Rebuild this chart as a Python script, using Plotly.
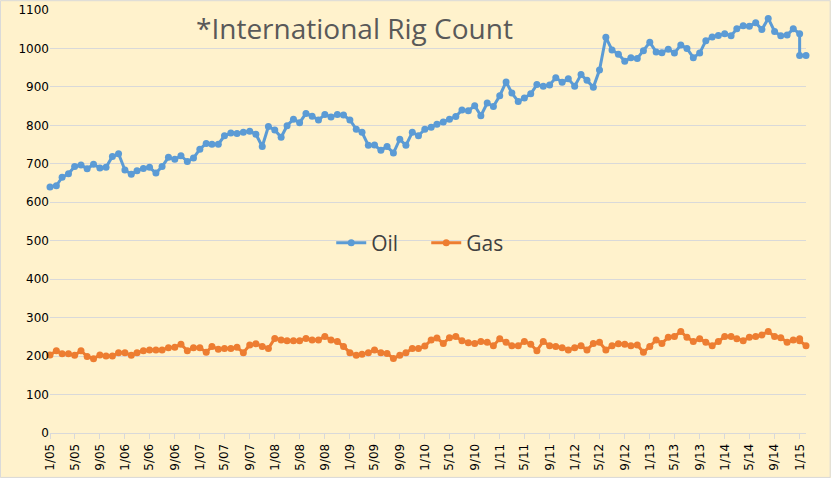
import pandas as pd
import plotly.graph_objects as go

# monthly points, Jan 2005 .. Feb 2015 (Jan 2015 appears twice in the source)
months = list(pd.date_range("2005-01-01", "2015-02-01", freq="MS"))
months.insert(120, months[120])

oil = [
    640, 643, 665, 674, 693, 697, 687, 699, 689, 691, 719, 726,
    684, 673, 682, 688, 691, 676, 693, 717, 712, 721, 706, 715,
    738, 753, 751, 751, 773, 780, 779, 782, 785, 777, 745, 797,
    788, 769, 799, 816, 807, 831, 824, 814, 828, 822, 828, 827,
    814, 790, 782, 748, 749, 735, 745, 728, 764, 748, 782, 773,
    790, 795, 803, 809, 816, 823, 840, 838, 851, 825, 858, 849,
    877, 913, 884, 862, 871, 882, 906, 902, 905, 924, 912, 921,
    902, 932, 917, 899, 944, 1029, 996, 985, 967, 976, 974, 994,
    1016, 991, 989, 998, 988, 1009, 1000, 976, 988, 1020, 1030, 1034,
    1038, 1033, 1051, 1059, 1058, 1067, 1049, 1078, 1044, 1033, 1035, 1051,
    1038, 982, 982,
]

gas = [
    203, 214, 206, 206, 202, 214, 199, 193, 203, 200, 200, 209,
    209, 202, 209, 214, 216, 216, 216, 222, 223, 231, 214, 222,
    222, 210, 225, 218, 220, 220, 223, 209, 229, 232, 225, 220,
    246, 242, 240, 240, 240, 246, 242, 242, 251, 242, 238, 225,
    209, 202, 205, 209, 216, 209, 207, 194, 202, 209, 220, 220,
    226, 242, 247, 233, 248, 251, 240, 235, 233, 238, 236, 227,
    245, 236, 227, 227, 238, 231, 214, 238, 227, 225, 222, 216,
    222, 227, 216, 233, 236, 216, 227, 232, 231, 227, 229, 210,
    225, 242, 233, 249, 251, 264, 249, 238, 245, 236, 227, 238,
    251, 251, 245, 240, 249, 251, 255, 264, 251, 248, 236, 242,
    245, 240, 227,
]

fig = go.Figure()
fig.add_trace(go.Scatter(x=months, y=oil, name="Oil", mode="lines+markers",
                         line=dict(color="#5B9BD5", width=3),
                         marker=dict(size=7, color="#5B9BD5"), cliponaxis=False))
fig.add_trace(go.Scatter(x=months, y=gas, name="Gas", mode="lines+markers",
                         line=dict(color="#ED7D31", width=3),
                         marker=dict(size=7, color="#ED7D31"), cliponaxis=False))

fig.update_layout(
    width=831, height=478,
    margin=dict(l=50, r=25, t=10, b=45, autoexpand=False),
    paper_bgcolor="#FFF2CC", plot_bgcolor="#FFF2CC",
    font=dict(family="DejaVu Sans", size=12, color="#000000"),
    showlegend=True,
    legend=dict(orientation="h", x=0.372, y=0.449, xanchor="left", yanchor="middle",
                itemwidth=30, entrywidth=50, entrywidthmode="pixels",
                bgcolor="rgba(0,0,0,0)",
                font=dict(size=21, family="Open Sans", color="#404040")),
    annotations=[dict(text="*International Rig Count", x=0.403, y=0.957,
                      xref="paper", yref="paper", xanchor="center", yanchor="middle",
                      showarrow=False,
                      font=dict(family="Open Sans", size=28, color="#595959"))],
    shapes=[dict(type="rect", xref="paper", yref="paper",
                 x0=-0.0655, x1=1.032, y0=-0.105, y1=1.022,
                 line=dict(color="#D9D9D9", width=1))],
)
fig.update_xaxes(type="date", range=["2005-01-01", "2015-02-01"], automargin=False,
                 tick0="2005-01-01", dtick="M4", tickformat="%-m/%y",
                 tickangle=-90, ticks="outside", ticklen=5, tickcolor="#D9D9D9",
                 showgrid=False, showline=True, linecolor="#D9D9D9", linewidth=1)
fig.update_yaxes(range=[0, 1100], dtick=100, showgrid=True, gridcolor="#D9D9D9",
                 gridwidth=1, zeroline=False, showline=False, ticks="", automargin=False)

fig.write_html("out.html", config={"displayModeBar": False},
               post_script="document.body.style.margin = '0';")
